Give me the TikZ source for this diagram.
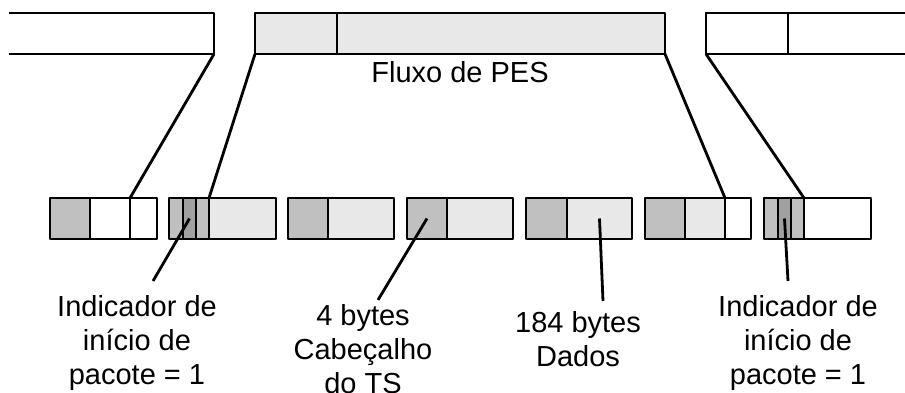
\documentclass[tikz,border=0pt]{standalone}
\usepackage{fontspec}
\setmainfont{Liberation Sans}
\definecolor{gA}{HTML}{C0C0C0}
\definecolor{gB}{HTML}{A0A0A0}
\definecolor{gL}{HTML}{E8E8E8}
\tikzset{
  ln/.style={line width=2.8pt, line join=round},
  cell/.style={draw, ln, inner sep=0pt, outer sep=0pt, anchor=north west, minimum height=41pt},
  bar/.style={inner sep=0pt, outer sep=0pt, anchor=north west, minimum height=41pt},
  lbl/.style={font=\fontsize{29}{34}\selectfont, align=center, inner sep=0pt, anchor=north}
}
\begin{document}
\begin{tikzpicture}[x=1pt,y=-1pt]
\useasboundingbox (0,0) rectangle (905,392);
% top bars
\node[bar, fill=white, minimum width=205pt] (lbar) at (9,13) {};
\draw[ln] (lbar.north west) -| (lbar.south east) -- (lbar.south west);
\node[cell, fill=gL, minimum width=82pt] (m1) at (255,13) {};
\node[cell, fill=gL, minimum width=328pt] (m2) at (337,13) {};
\node[bar, fill=white, minimum width=220pt] (rbar) at (706,13) {};
\draw[ln] (rbar.north east) -- (rbar.north west) -- (rbar.south west) -- (rbar.south east);
\node[cell, minimum width=220pt] (r1) at (706,13) {};
\node[cell, fill=white, minimum width=200pt] (r2) at (788,13) {};
\node[font=\fontsize{29}{34}\selectfont, anchor=base, inner sep=0pt] (flux) at (460,82) {Fluxo de PES};
% box 1
\node[cell, fill=gA, minimum width=40pt] (b1a) at (50,198) {};
\node[cell, fill=white, minimum width=40pt] (b1b) at (90,198) {};
\node[cell, fill=white, minimum width=27pt] (b1c) at (130,198) {};
% box 2
\node[cell, fill=gA, minimum width=14pt] (b2a) at (169,198) {};
\node[cell, fill=gB, minimum width=13pt] (b2b) at (183,198) {};
\node[cell, fill=gA, minimum width=13pt] (b2c) at (196,198) {};
\node[cell, fill=gL, minimum width=67pt] (b2d) at (209,198) {};
% box 3
\node[cell, fill=gA, minimum width=40pt] (b3a) at (288,198) {};
\node[cell, fill=gL, minimum width=66pt] (b3b) at (328,198) {};
% box 4
\node[cell, fill=gA, minimum width=40pt] (b4a) at (407,198) {};
\node[cell, fill=gL, minimum width=66pt] (b4b) at (447,198) {};
% box 5
\node[cell, fill=gA, minimum width=41pt] (b5a) at (526,198) {};
\node[cell, fill=gL, minimum width=65pt] (b5b) at (567,198) {};
% box 6
\node[cell, fill=gA, minimum width=40pt] (b6a) at (645,198) {};
\node[cell, fill=gL, minimum width=40pt] (b6b) at (685,198) {};
\node[cell, fill=white, minimum width=26pt] (b6c) at (725,198) {};
% box 7
\node[cell, fill=gA, minimum width=14pt] (b7a) at (764,198) {};
\node[cell, fill=gB, minimum width=13pt] (b7b) at (778,198) {};
\node[cell, fill=gA, minimum width=13pt] (b7c) at (791,198) {};
\node[cell, fill=white, minimum width=67pt] (b7d) at (804,198) {};
% mapping connectors
\draw[ln] (lbar.south east) -- (b1c.north west);
\draw[ln] (m1.south west) -- (b2d.north west);
\draw[ln] (m2.south east) -- (b6c.north west);
\draw[ln] (r1.south west) -- (b7d.north west);
% labels
\node[lbl] (L1) at (137,295.5) {Indicador de\\início de\\pacote = 1};
\node[lbl] (L2) at (363,304.5) {4 bytes\\Cabeçalho\\do TS};
\node[lbl] (L3) at (578,311.5) {184 bytes\\Dados};
\node[lbl] (L4) at (798,295.5) {Indicador de\\início de\\pacote = 1};
\coordinate (p1) at (153,281);
\coordinate (p2) at (378,300);
\coordinate (p3) at (603,301);
\coordinate (p4) at (788,281);
\draw[ln] (b2b.center) -- (p1);
\draw[ln] (b4a.center) -- (p2);
\draw[ln] (b5b.center) -- (p3);
\draw[ln] (b7b.center) -- (p4);
\end{tikzpicture}
\end{document}
